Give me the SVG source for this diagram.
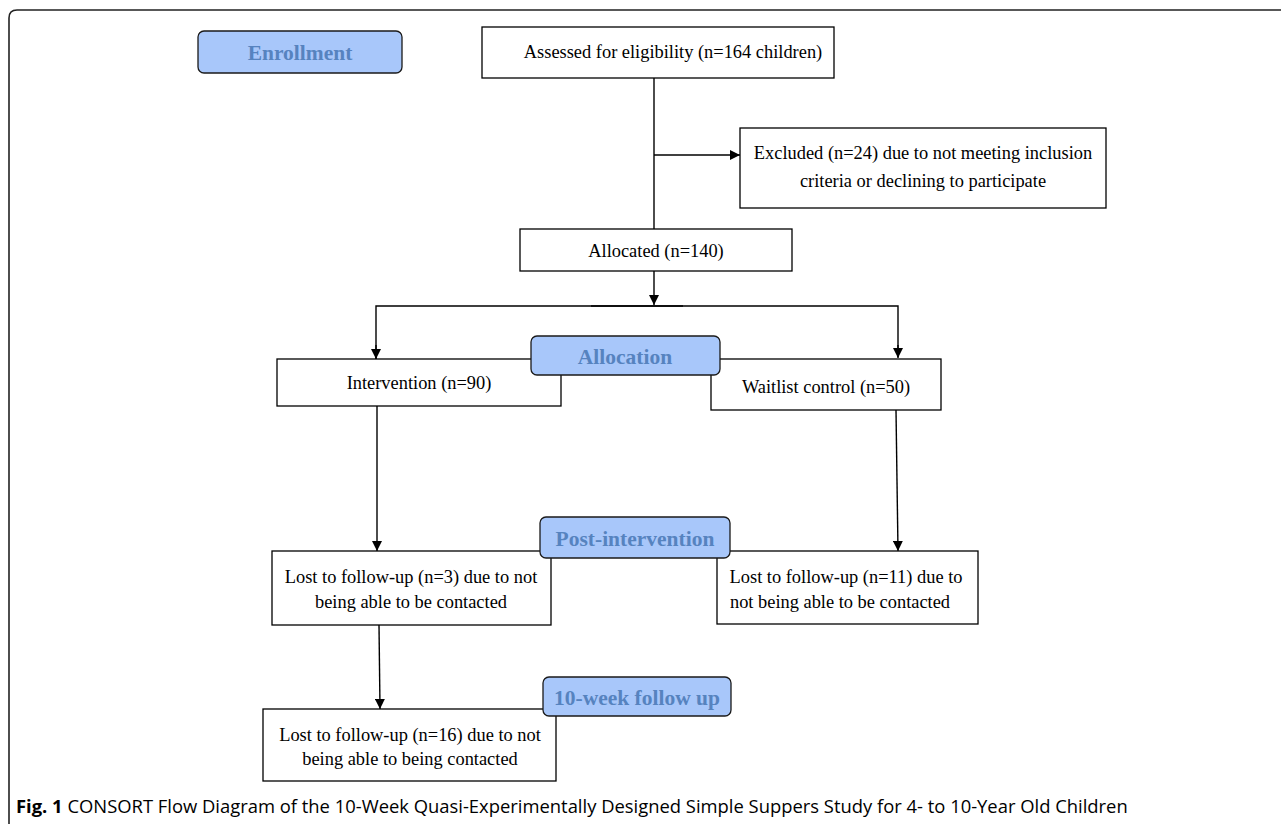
<svg xmlns="http://www.w3.org/2000/svg" width="1281" height="824" viewBox="0 0 1281 824">
<defs>
<marker id="ah" viewBox="0 0 10 10" refX="10" refY="5" markerWidth="10" markerHeight="10" markerUnits="userSpaceOnUse" orient="auto">
<path d="M0,0 L10,5 L0,10 z" fill="#000"/>
</marker>
<style>
.box{fill:#fff;stroke:#000;stroke-width:1.3}
.lab{fill:#a8c7fa;stroke:#1a1a1a;stroke-width:1.3}
.t{font-family:"Liberation Serif","Times New Roman",serif;font-size:18.4px;fill:#000;text-anchor:middle}
.lt{font-family:"Liberation Serif","Times New Roman",serif;font-size:21.5px;font-weight:bold;fill:#5683bf;text-anchor:middle}
.c{stroke:#000;stroke-width:1.4;fill:none}
.cap{font-family:"Open Sans","Noto Sans",sans-serif;font-size:18.4px;fill:#000}
</style>
</defs>
<rect width="1281" height="824" fill="#fff"/>
<path d="M9,824 L9,18 Q9,10 17,10 L1281,10" fill="none" stroke="#222" stroke-width="1.6"/>

<g id="connectors">
<line class="c" x1="654" y1="78" x2="654" y2="229"/>
<line class="c" x1="654" y1="155" x2="740" y2="155" marker-end="url(#ah)"/>
<line class="c" x1="654" y1="271" x2="654" y2="305" marker-end="url(#ah)"/>
<line class="c" x1="591" y1="306" x2="683" y2="306" stroke-width="2"/>
<polyline class="c" points="376,359 376,306 898,306 898,357" />
<line class="c" x1="376" y1="345" x2="376" y2="359" marker-end="url(#ah)"/>
<line class="c" x1="898" y1="345" x2="898" y2="358" marker-end="url(#ah)"/>
<line class="c" x1="377" y1="406" x2="377" y2="551" marker-end="url(#ah)"/>
<line class="c" x1="896" y1="410" x2="898" y2="551" marker-end="url(#ah)"/>
<line class="c" x1="379" y1="625" x2="380" y2="709" marker-end="url(#ah)"/>
</g>

<g id="assessed">
<rect class="box" x="482" y="27" width="352" height="51"/>
<text class="t" x="673" y="58">Assessed for eligibility (n=164 children)</text>
</g>
<g id="excluded">
<rect class="box" x="740" y="128" width="366" height="80"/>
<text class="t" x="923" y="159">Excluded (n=24) due to not meeting inclusion</text>
<text class="t" x="923" y="187">criteria or declining to participate</text>
</g>
<g id="allocated">
<rect class="box" x="520" y="229" width="272" height="42"/>
<text class="t" x="656" y="257">Allocated (n=140)</text>
</g>
<g id="intervention">
<rect class="box" x="277" y="359" width="284" height="47"/>
<text class="t" x="419" y="389">Intervention (n=90)</text>
</g>
<g id="waitlist">
<rect class="box" x="711" y="359" width="230" height="51"/>
<text class="t" x="826" y="393">Waitlist control (n=50)</text>
</g>
<g id="lost3">
<rect class="box" x="272" y="551" width="279" height="74"/>
<text class="t" x="411" y="583">Lost to follow-up (n=3) due to not</text>
<text class="t" x="411" y="608">being able to be contacted</text>
</g>
<g id="lost11">
<rect class="box" x="717" y="551" width="261" height="73"/>
<text class="t" x="846" y="583">Lost to follow-up (n=11) due to</text>
<text class="t" x="840" y="608">not being able to be contacted</text>
</g>
<g id="lost16">
<rect class="box" x="263" y="709" width="293" height="72"/>
<text class="t" x="410" y="741">Lost to follow-up (n=16) due to not</text>
<text class="t" x="410" y="765">being able to being contacted</text>
</g>

<g id="enrollment">
<rect class="lab" x="198" y="31" width="204" height="42" rx="6"/>
<text class="lt" x="300" y="60">Enrollment</text>
</g>
<g id="allocation">
<rect class="lab" x="531" y="336" width="189" height="39" rx="6"/>
<text class="lt" x="625" y="364">Allocation</text>
</g>
<g id="post-intervention">
<rect class="lab" x="540" y="517" width="190" height="41" rx="6"/>
<text class="lt" x="635" y="546">Post-intervention</text>
</g>
<g id="followup">
<rect class="lab" x="543" y="677" width="188" height="39" rx="6"/>
<text class="lt" x="637" y="705">10-week follow up</text>
</g>

<text class="cap" x="16" y="813"><tspan font-weight="bold">Fig. 1</tspan> CONSORT Flow Diagram of the 10-Week Quasi-Experimentally Designed Simple Suppers Study for 4- to 10-Year Old Children</text>
</svg>
